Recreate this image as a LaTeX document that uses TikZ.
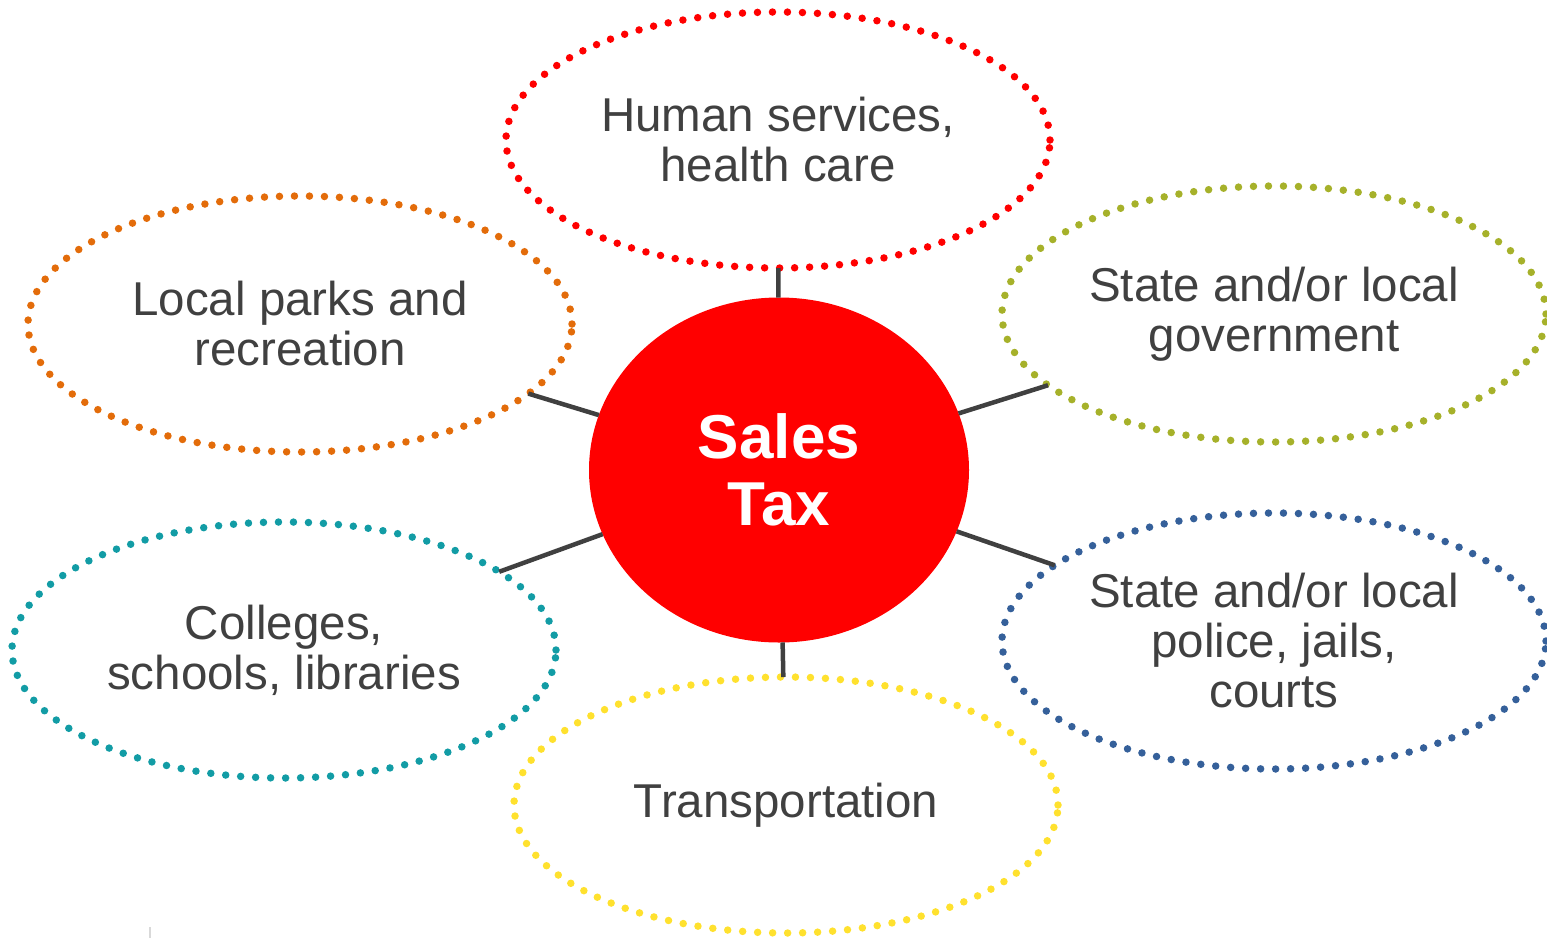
\documentclass[tikz,border=0pt]{standalone}
\usepackage{fontspec}
\setmainfont{Liberation Sans}
\usetikzlibrary{shapes.geometric}
\definecolor{txt}{HTML}{404040}
\definecolor{cRed}{HTML}{FF0000}
\definecolor{cOrange}{HTML}{E36C0A}
\definecolor{cOlive}{HTML}{A6B12A}
\definecolor{cTeal}{HTML}{129CA5}
\definecolor{cBlue}{HTML}{35609A}
\definecolor{cYellow}{HTML}{FFE12E}
\tikzset{
  topic/.style={ellipse, draw=#1, line width=7.5pt, line cap=round,
    dash pattern=on 0pt off 15pt, inner sep=0pt, outer sep=0pt,
    minimum width=544pt, minimum height=256pt, align=center,
    text=txt, font=\fontsize{47.5}{50}\selectfont},
  hub/.style={ellipse, fill=cRed, inner sep=0pt, outer sep=0pt,
    minimum width=380pt, minimum height=345pt, align=center,
    text=white, font=\fontsize{62}{67}\selectfont\bfseries},
  link/.style={draw=txt, line width=4.5pt}
}
\begin{document}
\begin{tikzpicture}[x=1pt,y=-1pt]
\useasboundingbox (0,0) rectangle (1547,938);
\node[hub] (tax) at (779,470) {Sales\\Tax};
\node[topic=cRed] (human) at (778,140) {Human services,\\health care};
\node[topic=cOrange] (parks) at (300,324) {Local parks and\\recreation};
\node[topic=cOlive] (gov) at (1274,314) {State and/or local\\government};
\node[topic=cTeal] (coll) at (284,650) {Colleges,\\schools, libraries};
\node[topic=cBlue] (police) at (1274,641) {State and/or local\\police, jails,\\courts};
\node[topic=cYellow] (trans) at (786,805) {Transportation};
\draw[link] (tax) -- (human);
\draw[link] (tax) -- (parks);
\draw[link] (tax) -- (gov);
\draw[link] (tax) -- (coll);
\draw[link] (tax) -- (police);
\draw[link] (tax) -- (trans);
\coordinate (tickA) at (150,927);
\coordinate (tickB) at (150,938);
\draw[black!15, line width=1.5pt] (tickA) -- (tickB);
\end{tikzpicture}
\end{document}
